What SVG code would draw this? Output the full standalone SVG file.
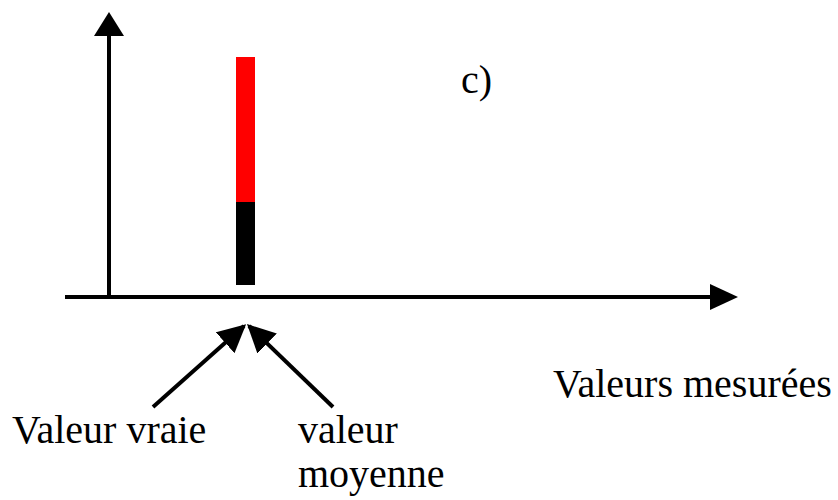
<svg xmlns="http://www.w3.org/2000/svg" width="838" height="500" viewBox="0 0 838 500">
<defs>
<marker id="ah" viewBox="0 0 10 10" refX="9" refY="5" markerWidth="7" markerHeight="7" markerUnits="strokeWidth" orient="auto">
<path d="M0,0 L10,5 L0,10 z" fill="#000"/>
</marker>
</defs>
<rect width="838" height="500" fill="#fff"/>
<g id="axes" stroke="#000" stroke-width="4" fill="none">
<line x1="109" y1="34" x2="109" y2="297"/>
<line x1="65" y1="297" x2="712" y2="297"/>
</g>
<g id="arrowheads" fill="#000">
<polygon points="109,12 94,36 124,36"/>
<polygon points="738,297 710,284 710,310"/>
</g>
<g id="bar">
<rect x="236" y="57" width="19" height="145" fill="#f00"/>
<rect x="236" y="202" width="19" height="83" fill="#000"/>
</g>
<g id="connectors" stroke="#000" stroke-width="4" fill="none">
<line x1="153" y1="407" x2="244" y2="326" marker-end="url(#ah)"/>
<line x1="333" y1="407" x2="249" y2="326" marker-end="url(#ah)"/>
</g>
<g id="label-c"><text x="461" y="93" font-size="40" font-family="'Liberation Serif'">c)</text></g>
<g id="label-mesurees"><text x="553" y="397" font-size="40" font-family="'Liberation Serif'">Valeurs mesurées</text></g>
<g id="label-vraie"><text x="12" y="443" font-size="40" font-family="'Liberation Serif'">Valeur vraie</text></g>
<g id="label-moyenne"><text x="298" y="443" font-size="40" font-family="'Liberation Serif'">valeur</text><text x="298" y="487" font-size="40" font-family="'Liberation Serif'">moyenne</text></g>
</svg>
